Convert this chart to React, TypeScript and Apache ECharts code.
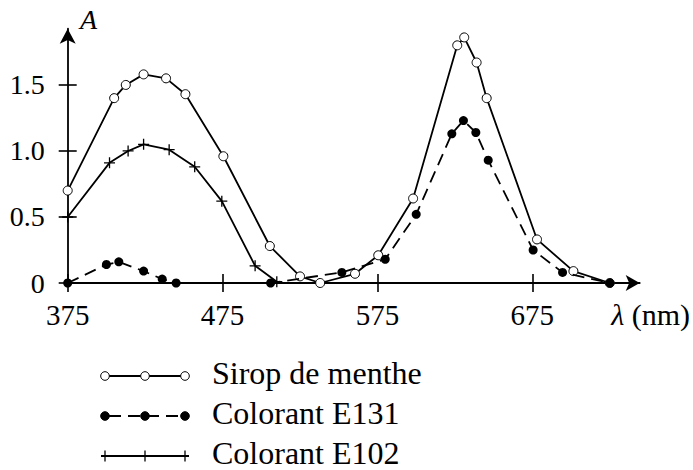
import React, { useEffect, useRef } from 'react';
import * as echarts from 'echarts';

// Wavelength (nm) and absorbance
const siropX = [375, 405, 412.5, 424, 438.5, 451, 475.5, 505.5, 525, 538, 560.5, 575.5, 598, 626.5, 631, 639, 645.5, 678, 701.5, 725];
const siropY = [0.70, 1.40, 1.50, 1.58, 1.55, 1.43, 0.96, 0.28, 0.05, 0.0, 0.07, 0.21, 0.64, 1.80, 1.86, 1.67, 1.40, 0.33, 0.09, 0.0];

const e131X = [375, 400, 408, 424, 436, 445, 506, 552, 580, 600, 623, 630.5, 638.5, 646.5, 675.5, 694.5, 725];
const e131Y = [0.0, 0.14, 0.16, 0.09, 0.03, 0.0, 0.0, 0.08, 0.18, 0.52, 1.13, 1.23, 1.14, 0.93, 0.25, 0.08, 0.0];

const e102X = [375, 402, 414, 424, 440.5, 457, 474.5, 496, 510];
const e102Y = [0.50, 0.91, 1.00, 1.05, 1.01, 0.88, 0.62, 0.13, 0.01];

const xTicks = [375, 475, 575, 675];
const yTicks = [0, 0.5, 1.0, 1.5];
const seriesNames = ['Sirop de menthe', 'Colorant E131', 'Colorant E102'];
const yAxisName = 'A';
const xAxisName = 'λ';
const xAxisUnit = ' (nm)';

const FONT = 'Liberation Serif';
const PLUS = 'path://M0,5L10,5M5,0L5,10';

export default function App() {
  const ref = useRef<HTMLDivElement>(null);

  useEffect(() => {
    const chart = echarts.init(ref.current as HTMLDivElement, null, { renderer: 'svg' });
    const pair = (xs: number[], ys: number[]) => xs.map((x, i) => [x, ys[i]]);

    const xMin = 375, xMax = 744.3, yMin = 0, yMax = 1.926;
    const labelStyle = { color: '#000', fontFamily: FONT, fontSize: 28 };

    const legendRows = [376, 416, 456];
    const legendGraphics: any[] = [];
    legendRows.forEach((y, i) => {
      legendGraphics.push({
        type: 'polyline',
        shape: { points: [[i === 2 ? 101 : 105, y], [i === 2 ? 189 : 185, y]] },
        style: { stroke: '#000', lineWidth: 1.8, fill: 'none', lineDash: i === 1 ? [12, 7] : null, lineDashOffset: i === 1 ? -4 : 0 },
        z: 10,
      });
      [105, 145, 185].forEach((cx) => {
        if (i === 2) {
          legendGraphics.push({
            type: 'line',
            shape: { x1: cx, y1: y - 5.5, x2: cx, y2: y + 5.5 },
            style: { stroke: '#000', lineWidth: 1.3 },
            z: 11,
          });
        } else {
          legendGraphics.push({
            type: 'circle',
            shape: { cx, cy: y, r: 4.3 },
            style: { fill: i === 0 ? '#fff' : '#000', stroke: '#000', lineWidth: 1 },
            z: 11,
          });
        }
      });
      legendGraphics.push({
        type: 'text',
        x: 212,
        y: y - 3,
        style: { text: seriesNames[i], fill: '#000', fontFamily: FONT, fontSize: 32, verticalAlign: 'middle', align: 'left' },
        z: 10,
      });
    });

    const baseX = { type: 'value', min: xMin, max: xMax, position: 'bottom', splitLine: { show: false } };
    const baseY = { type: 'value', min: yMin, max: yMax, position: 'left', splitLine: { show: false } };

    chart.setOption({
      animation: false,
      backgroundColor: '#fff',
      textStyle: { fontFamily: FONT },
      grid: { left: 67.7, right: 53.3, top: 28.7, bottom: 187, containLabel: false },
      xAxis: [
        {
          ...baseX,
          axisLine: { show: true, onZero: false, symbol: ['none', 'arrow'], symbolSize: [12, 14], lineStyle: { color: '#000', width: 1.8 } },
          axisTick: { show: true, inside: false, length: 9, customValues: xTicks, lineStyle: { color: '#000', width: 1.6 } },
          axisLabel: { show: true, margin: 17, customValues: xTicks, ...labelStyle, fontSize: 29 },
        },
        {
          ...baseX,
          axisLine: { show: false },
          axisTick: { show: true, inside: true, length: 9, customValues: xTicks, lineStyle: { color: '#000', width: 1.6 } },
          axisLabel: { show: false },
        },
      ],
      yAxis: [
        {
          ...baseY,
          axisLine: { show: true, onZero: false, symbol: ['none', 'arrow'], symbolSize: [12, 15], lineStyle: { color: '#000', width: 1.8 } },
          axisTick: { show: true, inside: false, length: 9, customValues: yTicks, lineStyle: { color: '#000', width: 1.6 } },
          axisLabel: {
            show: true, margin: 23, customValues: yTicks, ...labelStyle,
            formatter: (v: number) => (v === 0 ? '0' : v.toFixed(1)),
          },
        },
        {
          ...baseY,
          axisLine: { show: false },
          axisTick: { show: true, inside: true, length: 9, customValues: yTicks, lineStyle: { color: '#000', width: 1.6 } },
          axisLabel: { show: false },
        },
      ],
      series: [
        {
          name: seriesNames[2],
          type: 'line',
          data: pair(e102X, e102Y),
          symbol: PLUS,
          symbolSize: 11,
          showAllSymbol: true,
          lineStyle: { color: '#000', width: 1.8 },
          itemStyle: { color: 'none', borderColor: '#000', borderWidth: 1.3 },
          z: 2,
        },
        {
          name: seriesNames[0],
          type: 'line',
          data: pair(siropX, siropY),
          symbol: 'circle',
          symbolSize: 9,
          showAllSymbol: true,
          lineStyle: { color: '#000', width: 1.8 },
          itemStyle: { color: '#fff', borderColor: '#000', borderWidth: 1 },
          z: 3,
        },
        {
          name: seriesNames[1],
          type: 'line',
          data: pair(e131X, e131Y),
          symbol: 'circle',
          symbolSize: 9,
          showAllSymbol: true,
          lineStyle: { color: '#000', width: 1.8, type: [12, 7] },
          itemStyle: { color: '#000', borderColor: '#000', borderWidth: 0 },
          z: 4,
        },
      ],
      graphic: [
        {
          type: 'text',
          x: 80,
          y: 19,
          style: { text: yAxisName, fill: '#000', fontFamily: FONT, fontSize: 28, fontStyle: 'italic', verticalAlign: 'middle', align: 'left' },
        },
        {
          type: 'text',
          x: 690,
          y: 314,
          style: {
            text: `{i|${xAxisName}}{n|${xAxisUnit}}`,
            align: 'right',
            verticalAlign: 'middle',
            fontFamily: FONT,
            fontSize: 30,
            rich: {
              i: { fontFamily: FONT, fontSize: 30, fontStyle: 'italic', fill: '#000', color: '#000' },
              n: { fontFamily: FONT, fontSize: 30, fill: '#000', color: '#000' },
            },
          },
        },
        ...legendGraphics,
      ],
    });

    return () => chart.dispose();
  }, []);

  return (
    <div
      ref={ref}
      style={{ position: 'fixed', left: 0, top: 0, width: 693, height: 470, background: '#fff' }}
    />
  );
}
